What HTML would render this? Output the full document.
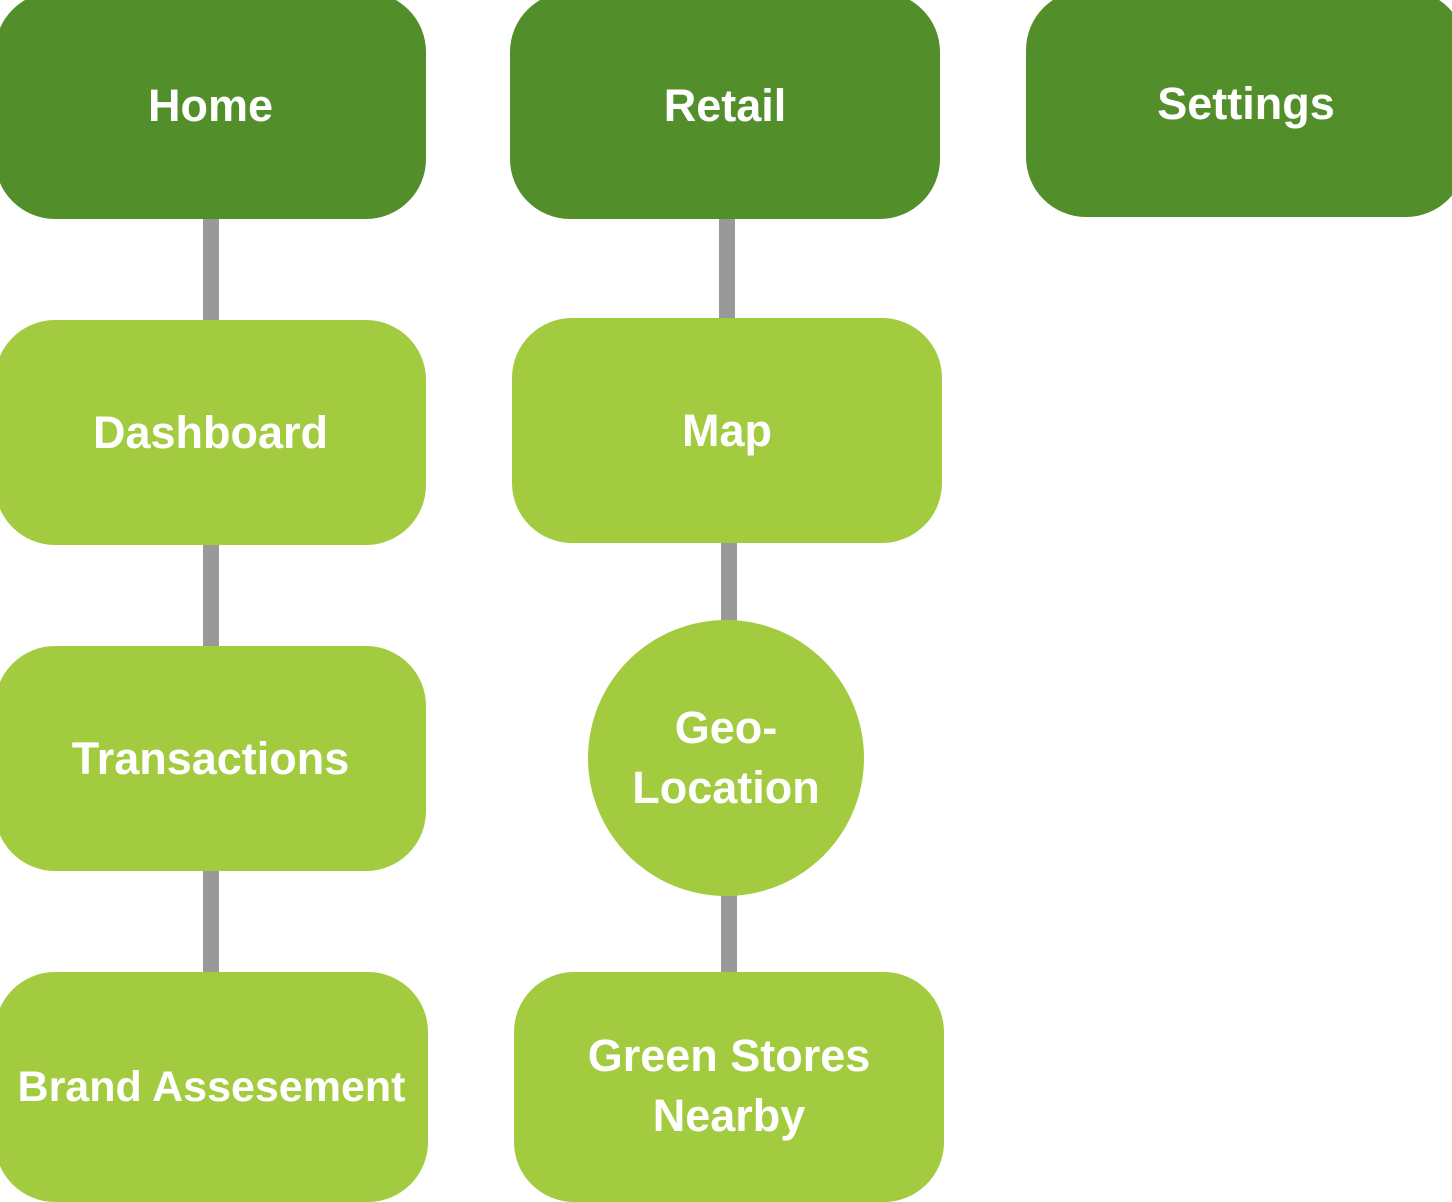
<!DOCTYPE html>
<html><head><meta charset="utf-8"><style>
html,body{margin:0;padding:0;width:1452px;height:1188px;overflow:hidden;background:#fff;}
.n{position:absolute;display:flex;align-items:center;justify-content:center;text-align:center;color:#fff;font-family:"Liberation Sans",sans-serif;font-weight:bold;font-size:45px;line-height:60px;border-radius:60px;}
.d{background:#528f2b;}
.l{background:#a2cb40;}
.c{position:absolute;background:#999;width:16px;}
</style></head><body>
<div class="c" style="left:203px;top:210px;height:120px"></div>
<div class="c" style="left:203px;top:535px;height:120px"></div>
<div class="c" style="left:203px;top:860px;height:120px"></div>
<div class="c" style="left:719px;top:210px;height:120px"></div>
<div class="c" style="left:721px;top:535px;height:100px"></div>
<div class="c" style="left:721px;top:880px;height:100px"></div>

<div class="n d" style="left:-5px;top:-8px;width:431px;height:227px">Home</div>
<div class="n d" style="left:510px;top:-8px;width:430px;height:227px">Retail</div>
<div class="n d" style="left:1026px;top:-10px;width:440px;height:227px">Settings</div>

<div class="n l" style="left:-5px;top:320px;width:431px;height:225px">Dashboard</div>
<div class="n l" style="left:512px;top:318px;width:430px;height:225px">Map</div>
<div class="n l" style="left:-5px;top:646px;width:431px;height:225px">Transactions</div>
<div class="n l" style="left:588px;top:620px;width:276px;height:276px;border-radius:50%">Geo-<br>Location</div>
<div class="n l" style="left:-5px;top:972px;width:433px;height:230px;font-size:43px">Brand Assesement</div>
<div class="n l" style="left:514px;top:972px;width:430px;height:230px;align-items:flex-start;padding-top:54px;box-sizing:border-box">Green Stores<br>Nearby</div>
</body></html>
